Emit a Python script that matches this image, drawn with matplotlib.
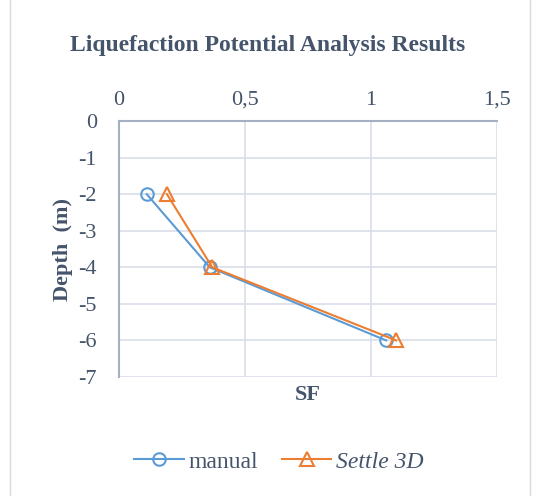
import matplotlib.pyplot as plt
from matplotlib.patches import Rectangle
from matplotlib.lines import Line2D

# values
depth = [-2, -4, -6]
sf_manual = [0.11, 0.36, 1.06]
sf_settle = [0.19, 0.37, 1.10]
x_ticks = [0, 0.5, 1, 1.5]
x_labels = ["0", "0,5", "1", "1,5"]
y_ticks = [0, -1, -2, -3, -4, -5, -6, -7]

text_col = "#44546A"
blue = "#5B9BD5"
orange = "#ED7D31"

plt.rcParams["font.family"] = ["Liberation Serif", "DejaVu Serif"]

fig = plt.figure(figsize=(5.35, 4.96), dpi=100)
fig.patches.append(Rectangle((10 / 535, -0.01), 520 / 535, 1.02, transform=fig.transFigure,
                             fill=False, edgecolor="#D9D9D9", linewidth=1))
ax = fig.add_axes([119 / 535, 1 - 377 / 496, 378 / 535, 256 / 496])

ax.plot(sf_manual, depth, color=blue, marker="o", markersize=9, markerfacecolor="none",
        markeredgewidth=1.5, linewidth=1.5, label="manual")
ax.plot(sf_settle, depth, color=orange, marker="^", markersize=10, markerfacecolor="none",
        markeredgewidth=1.5, linewidth=1.5, label="Settle 3D")

ax.set_xlim(0, 1.5)
ax.set_ylim(-7, 0)
ax.set_xticks(x_ticks, x_labels)
ax.set_yticks(y_ticks, [str(v) for v in y_ticks])
ax.xaxis.tick_top()
ax.tick_params(length=0, labelsize=16, labelcolor=text_col)
ax.tick_params(axis="x", pad=8)
ax.tick_params(axis="y", pad=16)
ax.grid(True, color="#D9DEE8", linewidth=1.2)
ax.set_axisbelow(True)
for s in ["right", "bottom"]:
    ax.spines[s].set_visible(False)
for s in ["left", "top"]:
    ax.spines[s].set_color("#A5B0C5")
    ax.spines[s].set_linewidth(1.5)

ax.set_xlabel("SF", fontsize=16, fontweight="bold", color=text_col, labelpad=6)
ax.set_ylabel("Depth  (m)", fontsize=16, fontweight="bold", color=text_col, labelpad=4)

fig.text(0.5, 1 - 46 / 496, "Liquefaction Potential Analysis Results", ha="center", va="center",
         fontsize=17, fontweight="bold", color=text_col)

h1 = Line2D([], [], color=blue, marker="o", markersize=9, markerfacecolor="none", markeredgewidth=1.5)
h2 = Line2D([], [], color=orange, marker="^", markersize=10, markerfacecolor="none", markeredgewidth=1.5)
leg = fig.legend([h1, h2], ["manual", "Settle 3D"], loc="center", bbox_to_anchor=(279 / 535, 1 - 462 / 496),
                 ncol=2, frameon=False, fontsize=17, handlelength=2.1, handletextpad=0.2, columnspacing=1.0)
for t in leg.get_texts():
    t.set_color(text_col)
leg.get_texts()[1].set_style("italic")

fig.savefig("out.png", dpi=100)
